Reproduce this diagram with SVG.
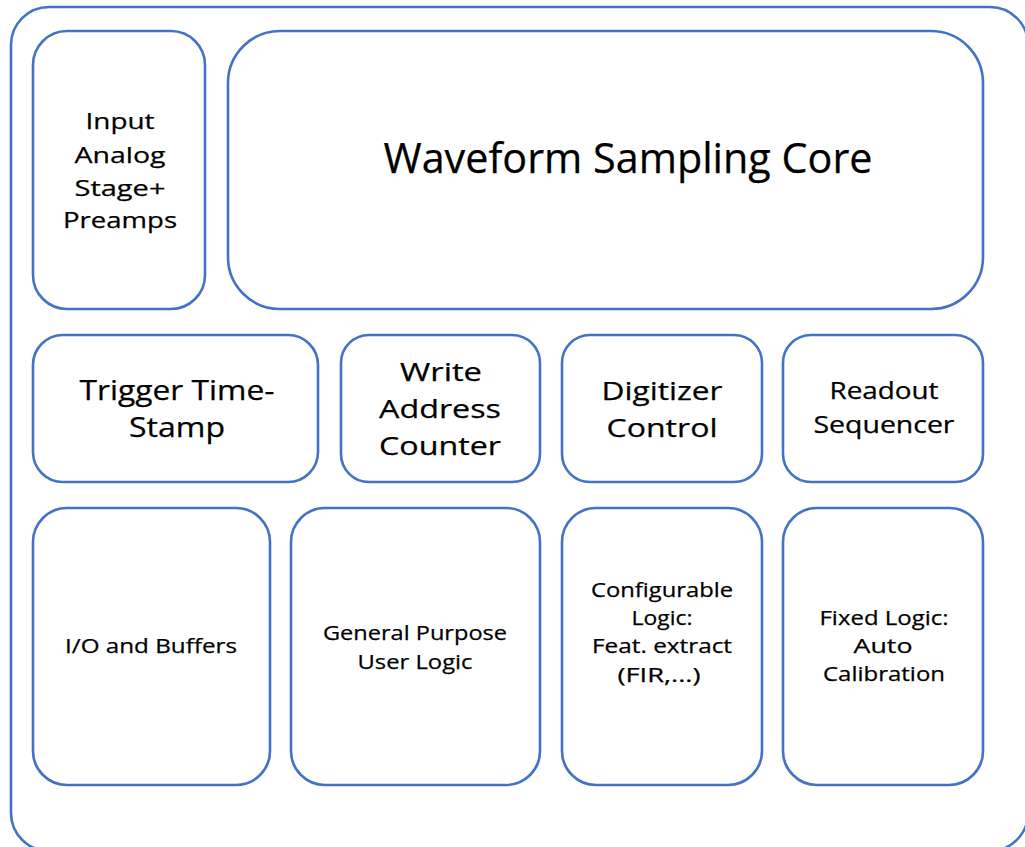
<svg xmlns="http://www.w3.org/2000/svg" width="1025" height="847" viewBox="0 0 1025 847">
  <style>
    .box { fill: #ffffff; stroke: #4472C4; stroke-width: 2.6; }
    .lbl { font-family: "Open Sans", "Liberation Sans", sans-serif; fill: #000000; text-anchor: middle; stroke: #000000; stroke-width: 0.25; }
  </style>
  <rect x="0" y="0" width="1025" height="847" fill="#ffffff"/>

  <!-- outer board outline, slightly larger than the canvas on the right and bottom -->
  <g id="board">
    <rect class="box" x="11" y="7" width="1017" height="844" rx="38" ry="38"/>
  </g>

  <g id="input-analog">
    <rect class="box" x="33" y="31" width="172" height="278" rx="34" ry="34"/>
    <text class="lbl" font-size="22.5"><tspan x="120" y="129" textLength="69" lengthAdjust="spacingAndGlyphs">Input</tspan><tspan x="120" y="163" textLength="91" lengthAdjust="spacingAndGlyphs">Analog</tspan><tspan x="120" y="196" textLength="91" lengthAdjust="spacingAndGlyphs">Stage+</tspan><tspan x="120" y="228" textLength="114" lengthAdjust="spacingAndGlyphs">Preamps</tspan></text>
  </g>

  <g id="waveform-core">
    <rect class="box" x="228" y="31" width="755" height="278" rx="52" ry="52"/>
    <text class="lbl" font-size="42" x="628" y="173" textLength="489" lengthAdjust="spacingAndGlyphs">Waveform Sampling Core</text>
  </g>

  <g id="trigger-timestamp">
    <rect class="box" x="33" y="335" width="285" height="147" rx="30" ry="30"/>
    <text class="lbl" font-size="28"><tspan x="177" y="400" textLength="195" lengthAdjust="spacingAndGlyphs">Trigger Time-</tspan><tspan x="177" y="437" textLength="96" lengthAdjust="spacingAndGlyphs">Stamp</tspan></text>
  </g>

  <g id="write-address">
    <rect class="box" x="341" y="335" width="199" height="147" rx="28" ry="28"/>
    <text class="lbl" font-size="26"><tspan x="441" y="381" textLength="82" lengthAdjust="spacingAndGlyphs">Write</tspan><tspan x="440" y="418" textLength="122" lengthAdjust="spacingAndGlyphs">Address</tspan><tspan x="440" y="455" textLength="122" lengthAdjust="spacingAndGlyphs">Counter</tspan></text>
  </g>

  <g id="digitizer-control">
    <rect class="box" x="562" y="335" width="200" height="147" rx="28" ry="28"/>
    <text class="lbl" font-size="26"><tspan x="662" y="400" textLength="121" lengthAdjust="spacingAndGlyphs">Digitizer</tspan><tspan x="662" y="437" textLength="111" lengthAdjust="spacingAndGlyphs">Control</tspan></text>
  </g>

  <g id="readout-sequencer">
    <rect class="box" x="783" y="335" width="200" height="147" rx="28" ry="28"/>
    <text class="lbl" font-size="23"><tspan x="884" y="399" textLength="109" lengthAdjust="spacingAndGlyphs">Readout</tspan><tspan x="884" y="433" textLength="141" lengthAdjust="spacingAndGlyphs">Sequencer</tspan></text>
  </g>

  <g id="io-buffers">
    <rect class="box" x="33" y="508" width="237" height="277" rx="34" ry="34"/>
    <text class="lbl" font-size="20.5" x="151" y="653" textLength="172" lengthAdjust="spacingAndGlyphs">I/O and Buffers</text>
  </g>

  <g id="user-logic">
    <rect class="box" x="291" y="508" width="249" height="277" rx="34" ry="34"/>
    <text class="lbl" font-size="20.5"><tspan x="415" y="640" textLength="184" lengthAdjust="spacingAndGlyphs">General Purpose</tspan><tspan x="415" y="669" textLength="115" lengthAdjust="spacingAndGlyphs">User Logic</tspan></text>
  </g>

  <g id="configurable-logic">
    <rect class="box" x="562" y="508" width="200" height="277" rx="34" ry="34"/>
    <text class="lbl" font-size="20.5"><tspan x="662" y="597" textLength="142" lengthAdjust="spacingAndGlyphs">Configurable</tspan><tspan x="662" y="625" textLength="61" lengthAdjust="spacingAndGlyphs">Logic:</tspan><tspan x="662" y="653" textLength="140" lengthAdjust="spacingAndGlyphs">Feat. extract</tspan><tspan x="659" y="682" textLength="83" lengthAdjust="spacingAndGlyphs">(FIR,...)</tspan></text>
  </g>

  <g id="fixed-logic">
    <rect class="box" x="783" y="508" width="200" height="277" rx="34" ry="34"/>
    <text class="lbl" font-size="20.5"><tspan x="884" y="625" textLength="129" lengthAdjust="spacingAndGlyphs">Fixed Logic:</tspan><tspan x="883" y="653" textLength="59" lengthAdjust="spacingAndGlyphs">Auto</tspan><tspan x="884" y="681" textLength="122" lengthAdjust="spacingAndGlyphs">Calibration</tspan></text>
  </g>

  <!-- the blocks are laid out edge to edge; no connectors are drawn -->
  <g id="connectors"/>
</svg>
